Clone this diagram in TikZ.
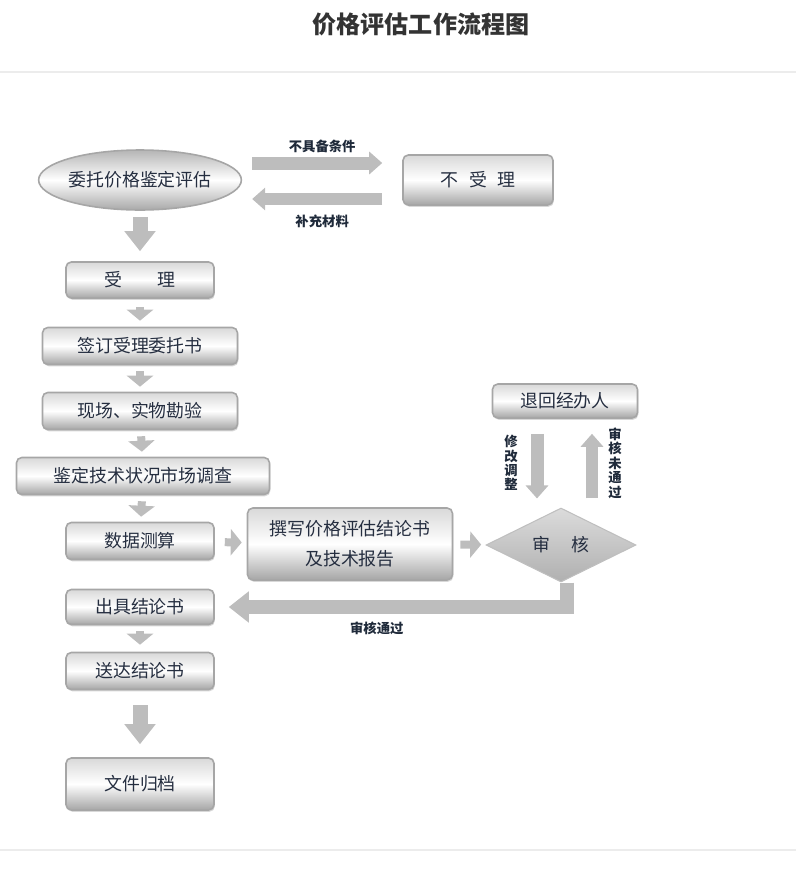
\documentclass[tikz,border=0pt]{standalone}
\usepackage{fontspec}
\setmainfont{Noto Sans CJK SC}
\usepackage{xcolor}
\usepackage{tikz}
\usetikzlibrary{arrows.meta}
\usetikzlibrary{shapes.geometric, shadows}
\definecolor{boxtext}{HTML}{252E40}
\definecolor{lbltext}{HTML}{1F2A3A}
\definecolor{arrowgray}{HTML}{BDBDBD}
\definecolor{rulegray}{HTML}{ECECEC}
\tikzset{
  stepbox/.style={rectangle, rounded corners=3pt, draw=gray!70, line width=0.9pt,
    top color=gray!30, bottom color=gray!70, middle color=white, text=boxtext,
    font=\fontsize{10.2}{12}\selectfont, inner sep=0pt,
    drop shadow={shadow xshift=0.5pt, shadow yshift=-1pt, fill=gray!60}},
  startoval/.style={ellipse, draw=gray!70, line width=0.9pt,
    top color=gray!58, bottom color=gray!68, middle color=white, text=boxtext,
    font=\fontsize{10.2}{12}\selectfont, inner sep=0pt,
    minimum width=3.9cm, minimum height=1.2cm},
  checkdiamond/.style={diamond, draw=gray!50, line width=0.6pt,
    top color=gray!28, bottom color=gray!62, text=boxtext,
    font=\fontsize{10.2}{12}\selectfont, inner sep=0pt,
    minimum width=3cm, minimum height=1.4cm},
  lbl/.style={text=lbltext, font=\fontsize{7.6}{8.2}\selectfont\bfseries, inner sep=1pt},
  smallarr/.style={draw=arrowgray, line width=0.16cm, -{Triangle[length=0.22cm, width=0.52cm]}},
  bigarr/.style={draw=arrowgray, line width=0.3cm, -{Triangle[length=0.4cm, width=0.6cm]}},
  sidearr/.style={draw=arrowgray, line width=0.26cm, -{Triangle[length=0.26cm, width=0.44cm]}},
}
\begin{document}
\begin{tikzpicture}[x=0.02cm, y=-0.02cm]
\useasboundingbox (0,0) rectangle (796,886);
\node (title) at (421,24) [text=black!80, font=\fontsize{13.7}{16}\selectfont\bfseries] {价格评估工作流程图};
\draw [rulegray, line width=0.6pt] (0,72) -- (796,72);
\draw [rulegray, line width=0.6pt] (0,850) -- (796,850);
% left column
\node (entrust) at (140,180) [startoval] {委托价格鉴定评估};
\node (refuse) at (478,180) [stepbox, minimum width=3cm, minimum height=1cm] {不\hspace{0.6em}受\hspace{0.6em}理};
\node (accept) at (140,280) [stepbox, minimum width=2.96cm, minimum height=0.72cm] {受\hspace{2em}理};
\node (sign) at (140,346) [stepbox, minimum width=3.9cm, minimum height=0.74cm] {签订受理委托书};
\node (survey) at (140,411) [stepbox, minimum width=3.9cm, minimum height=0.74cm] {现场、实物勘验};
\node (market) at (143,476) [stepbox, minimum width=5.06cm, minimum height=0.74cm] {鉴定技术状况市场调查};
\node (calc) at (140,541) [stepbox, minimum width=2.96cm, minimum height=0.74cm] {数据测算};
\node (report) at (350,544) [stepbox, minimum width=4.1cm, minimum height=1.44cm, align=center, font=\fontsize{10.2}{17}\selectfont] {撰写价格评估结论书\\及技术报告};
\node (audit) at (561,545) [checkdiamond] {审\hspace{1.2em}核};
\node (return) at (565,401) [stepbox, minimum width=2.9cm, minimum height=0.68cm] {退回经办人};
\node (issue) at (140,607) [stepbox, minimum width=2.96cm, minimum height=0.7cm] {出具结论书};
\node (deliver) at (140,671) [stepbox, minimum width=2.96cm, minimum height=0.74cm] {送达结论书};
\node (archive) at (140,784) [stepbox, minimum width=2.96cm, minimum height=1.04cm] {文件归档};
% arrows
\draw [bigarr, shorten <=0.12cm, shorten >=0.2cm] (entrust) -- (accept);
\draw [sidearr, shorten <=0.2cm, shorten >=0.4cm] ([yshift=0.34cm]entrust.east) -- ([yshift=0.34cm]refuse.west) node [midway, above=0.04cm, lbl] {不具备条件};
\draw [sidearr, shorten <=0.4cm, shorten >=0.2cm] ([yshift=-0.38cm]refuse.west) -- ([yshift=-0.38cm]entrust.east) node [midway, below=0.16cm, lbl] {补充材料};
\draw [smallarr, shorten <=0.16cm, shorten >=0.12cm] (accept) -- (sign);
\draw [smallarr, shorten <=0.12cm, shorten >=0.1cm] (sign) -- (survey);
\draw [smallarr, shorten <=0.12cm, shorten >=0.1cm] (survey) -- (market);
\draw [smallarr, shorten <=0.12cm, shorten >=0.1cm] (market) -- (calc);
\draw [smallarr, shorten <=0.2cm, shorten >=0.1cm] (calc) -- (report);
\draw [smallarr, shorten <=0.14cm, shorten >=0.1cm] (report) -- (audit);
\draw [sidearr, shorten <=0.3cm, shorten >=0.18cm] ([xshift=-0.56cm]return.south) -- ([xshift=-0.56cm]return.south |- audit.north) node [midway, left=0.22cm, lbl, align=center] {修\\改\\调\\整};
\draw [sidearr, shorten <=0.18cm, shorten >=0.3cm] ([xshift=0.54cm]return.south |- audit.north) -- ([xshift=0.54cm]return.south) node [midway, right=0.16cm, lbl, align=center] {审\\核\\未\\通\\过};
\draw [bigarr, line width=0.28cm, shorten >=0.28cm, line join=miter] ([xshift=0.12cm]audit.south) |- (issue.east) node [pos=0.77, below=0.12cm, lbl] {审核通过};
\draw [smallarr, shorten <=0.12cm, shorten >=0.14cm] (issue) -- (deliver);
\draw [bigarr, shorten <=0.3cm, shorten >=0.26cm] (deliver) -- (archive);
\end{tikzpicture}
\end{document}
